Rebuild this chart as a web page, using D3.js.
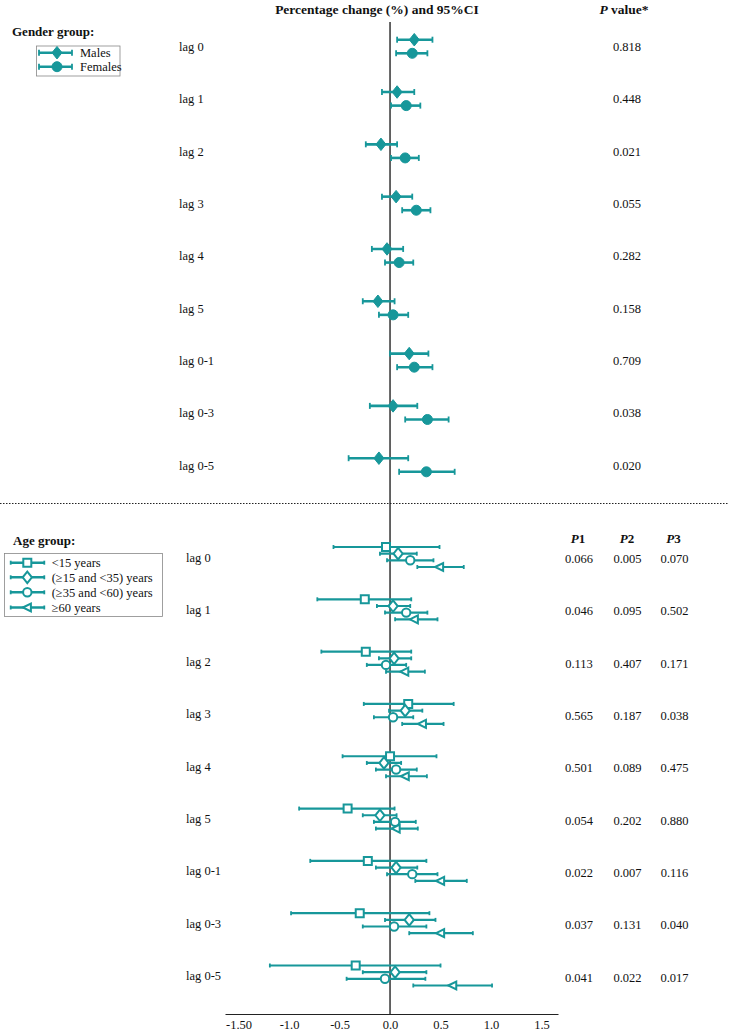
<!DOCTYPE html>
<html><head><meta charset="utf-8">
<script src="https://cdn.jsdelivr.net/npm/d3@7"></script>
<style>body{margin:0;background:#fff}svg text{font-family:"Liberation Serif","Times New Roman",serif;fill:#111}</style>
</head><body><svg id="c" width="731" height="1035"></svg>
<script>
const lags = ["lag 0","lag 1","lag 2","lag 3","lag 4","lag 5","lag 0-1","lag 0-3","lag 0-5"];
// Gender group [estimate, low, high]
const males   = [[0.24,0.07,0.42],[0.07,-0.08,0.24],[-0.09,-0.24,0.07],[0.06,-0.08,0.22],[-0.03,-0.18,0.13],[-0.12,-0.27,0.045],[0.19,0.0,0.38],[0.03,-0.20,0.27],[-0.11,-0.41,0.18]];
const females = [[0.22,0.06,0.37],[0.16,0.01,0.30],[0.15,0.01,0.285],[0.26,0.12,0.40],[0.09,-0.05,0.23],[0.03,-0.11,0.18],[0.24,0.07,0.42],[0.37,0.15,0.58],[0.36,0.09,0.64]];
const genderP = ["0.818","0.448","0.021","0.055","0.282","0.158","0.709","0.038","0.020"];
// Age group [estimate, low, high]
const ageLt15   = [[-0.04,-0.56,0.49],[-0.25,-0.72,0.21],[-0.24,-0.68,0.21],[0.18,-0.26,0.63],[0.0,-0.47,0.46],[-0.42,-0.90,0.045],[-0.22,-0.79,0.36],[-0.30,-0.98,0.39],[-0.34,-1.19,0.50]];
const age15to35 = [[0.08,-0.10,0.265],[0.03,-0.13,0.20],[0.04,-0.11,0.21],[0.15,-0.01,0.32],[-0.06,-0.23,0.11],[-0.10,-0.27,0.065],[0.06,-0.14,0.27],[0.19,-0.05,0.45],[0.05,-0.27,0.36]];
const age35to60 = [[0.20,-0.03,0.43],[0.16,-0.05,0.37],[-0.04,-0.23,0.16],[0.03,-0.16,0.23],[0.06,-0.14,0.265],[0.05,-0.16,0.255],[0.22,-0.03,0.47],[0.04,-0.27,0.36],[-0.05,-0.43,0.35]];
const ageGe60   = [[0.49,0.27,0.73],[0.24,0.05,0.47],[0.145,-0.04,0.345],[0.32,0.12,0.53],[0.15,-0.04,0.365],[0.06,-0.14,0.275],[0.50,0.25,0.76],[0.50,0.19,0.82],[0.62,0.23,1.01]];
const ageP1 = ["0.066","0.046","0.113","0.565","0.501","0.054","0.022","0.037","0.041"];
const ageP2 = ["0.005","0.095","0.407","0.187","0.089","0.202","0.007","0.131","0.022"];
const ageP3 = ["0.070","0.502","0.171","0.038","0.475","0.880","0.116","0.040","0.017"];
const genderNames = ["Males","Females"];
const ageNames = ["<15 years","(\u226515 and <35) years","(\u226535 and <60) years","\u226560 years"];
const tickVals = [-1.5,-1.0,-0.5,0.0,0.5,1.0,1.5];
const tickLabels = ["-1.50","-1.0","-0.5","0.0","0.5","1.0","1.5"];

const col = "#17979a";
const svg = d3.select("#c");
const x = d3.scaleLinear().domain([-1.634,1.663]).range([225,558]);
const yG = d3.scalePoint().domain(lags).range([46.5,465]);
const yA = d3.scalePoint().domain(lags).range([557,975.5]);

function markerPath(type, s){
  if(type==="diamond") return `M0,${-s*1.25}L${s},0L0,${s*1.25}L${-s},0Z`;
  if(type==="square") return `M${-s},${-s}H${s}V${s}H${-s}Z`;
  if(type==="circle") return d3.symbol(d3.symbolCircle, Math.PI*s*s)();
  if(type==="triangle") return `M${-s*1.1},0L${s*0.9},${-s}L${s*0.9},${s}Z`;
}

function drawSeries(g, data, yScale, off, type, filled, sz, lw, cap){
  const grp = g.append("g");
  data.forEach((d,i)=>{
    const y = yScale(lags[i]) + off;
    grp.append("line").attr("x1",x(d[1])).attr("x2",x(d[2])).attr("y1",y).attr("y2",y)
      .attr("stroke",col).attr("stroke-width",lw);
    [d[1],d[2]].forEach(v=>grp.append("line").attr("x1",x(v)).attr("x2",x(v)).attr("y1",y-cap).attr("y2",y+cap)
      .attr("stroke",col).attr("stroke-width",1.8));
    grp.append("path").attr("d",markerPath(type,sz)).attr("transform",`translate(${x(d[0])},${y})`)
      .attr("fill",filled?col:"#fff").attr("stroke",col).attr("stroke-width",filled?1:2);
  });
}

// zero line
svg.append("line").attr("x1",x(0)).attr("x2",x(0)).attr("y1",22).attr("y2",1014).attr("stroke","#333").attr("stroke-width",1.5);

// headers
svg.append("text").attr("x",377).attr("y",14).attr("text-anchor","middle").attr("font-size",13.5).attr("font-weight","bold").text("Percentage change (%) and 95%CI");
const pv = svg.append("text").attr("x",624).attr("y",14).attr("text-anchor","middle").attr("font-size",13.5).attr("font-weight","bold");
pv.append("tspan").attr("font-style","italic").text("P");
pv.append("tspan").text(" value*");

// gender section
svg.append("text").attr("x",12).attr("y",36).attr("font-size",13).attr("font-weight","bold").text("Gender group:");
svg.append("g").selectAll("text").data(lags).join("text").attr("x",179).attr("y",d=>yG(d)+4.5).attr("font-size",12.5).text(d=>d);
svg.append("g").selectAll("text").data(genderP).join("text").attr("x",627).attr("y",(d,i)=>yG(lags[i])+4.5).attr("text-anchor","middle").attr("font-size",12.5).text(d=>d);
const gD = svg.append("g");
drawSeries(gD, males, yG, -6.8, "diamond", true, 5, 2.6, 3);
drawSeries(gD, females, yG, 6.8, "circle", true, 5, 2.6, 3);

// gender legend
const gl = svg.append("g");
gl.append("rect").attr("x",36.5).attr("y",46).attr("width",83.5).attr("height",30).attr("fill","#fff").attr("stroke","#888").attr("stroke-width",0.8);
genderNames.forEach((n,i)=>{
  const y = [52.7,66.7][i];
  gl.append("line").attr("x1",39).attr("x2",72).attr("y1",y).attr("y2",y).attr("stroke",col).attr("stroke-width",2.6);
  [39,72].forEach(xx=>gl.append("line").attr("x1",xx).attr("x2",xx).attr("y1",y-3).attr("y2",y+3).attr("stroke",col).attr("stroke-width",1.8));
  gl.append("path").attr("d",markerPath(i===0?"diamond":"circle",5)).attr("transform",`translate(57,${y})`).attr("fill",col).attr("stroke",col);
  gl.append("text").attr("x",80).attr("y",y+4.5).attr("font-size",12.5).text(n);
});

// separator
svg.append("line").attr("x1",0).attr("x2",728).attr("y1",503.5).attr("y2",503.5).attr("stroke","#222").attr("stroke-width",1.2).attr("stroke-dasharray","1.5,1.5");

// age section
svg.append("text").attr("x",13).attr("y",545).attr("font-size",13).attr("font-weight","bold").text("Age group:");
svg.append("g").selectAll("text").data(lags).join("text").attr("x",186).attr("y",d=>yA(d)+4.5).attr("font-size",12.5).text(d=>d);
const phead = [["P1",578],["P2",627],["P3",673.5]];
phead.forEach(([t,xx])=>{
  const tt = svg.append("text").attr("x",xx).attr("y",543).attr("text-anchor","middle").attr("font-size",13).attr("font-weight","bold");
  tt.append("tspan").attr("font-style","italic").text("P");
  tt.append("tspan").text(t.slice(1));
});
[[ageP1,579],[ageP2,627.5],[ageP3,674.5]].forEach(([arr,xx])=>{
  svg.append("g").selectAll("text").data(arr).join("text").attr("x",xx).attr("y",(d,i)=>yA(lags[i])+6).attr("text-anchor","middle").attr("font-size",12.5).text(d=>d);
});
const aD = svg.append("g");
drawSeries(aD, ageLt15, yA, -10, "square", false, 4, 2.2, 2);
drawSeries(aD, age15to35, yA, -3.3, "diamond", false, 4.6, 2.2, 2);
drawSeries(aD, age35to60, yA, 3.3, "circle", false, 4.2, 2.2, 2);
drawSeries(aD, ageGe60, yA, 10, "triangle", false, 4, 2.2, 2);

// age legend
const al = svg.append("g");
al.append("rect").attr("x",4.5).attr("y",553.5).attr("width",158).attr("height",63).attr("fill","#fff").attr("stroke","#888").attr("stroke-width",0.8);
const atypes = ["square","diamond","circle","triangle"];
const asz = [4,4.6,4.2,4];
ageNames.forEach((n,i)=>{
  const y = [562.7,577.3,592.3,607.5][i];
  al.append("line").attr("x1",10.7).attr("x2",44.3).attr("y1",y).attr("y2",y).attr("stroke",col).attr("stroke-width",2.4);
  [10.7,44.3].forEach(xx=>al.append("line").attr("x1",xx).attr("x2",xx).attr("y1",y-2).attr("y2",y+2).attr("stroke",col).attr("stroke-width",1.8));
  al.append("path").attr("d",markerPath(atypes[i],asz[i])).attr("transform",`translate(27.3,${y})`).attr("fill","#fff").attr("stroke",col).attr("stroke-width",2);
  al.append("text").attr("x",51.7).attr("y",y+4.5).attr("font-size",12.5).text(n);
});

// x axis
const ax = svg.append("g").attr("transform","translate(0,1014)")
  .call(d3.axisBottom(x).tickValues(tickVals).tickFormat((d,i)=>tickLabels[i]).tickSizeInner(0).tickSizeOuter(0).tickPadding(6));
ax.select(".domain").attr("stroke","#222").attr("stroke-width",1.2);
ax.selectAll("text").attr("font-size",12.5).attr("font-family","Liberation Serif, serif").attr("fill","#111");
</script></body></html>
